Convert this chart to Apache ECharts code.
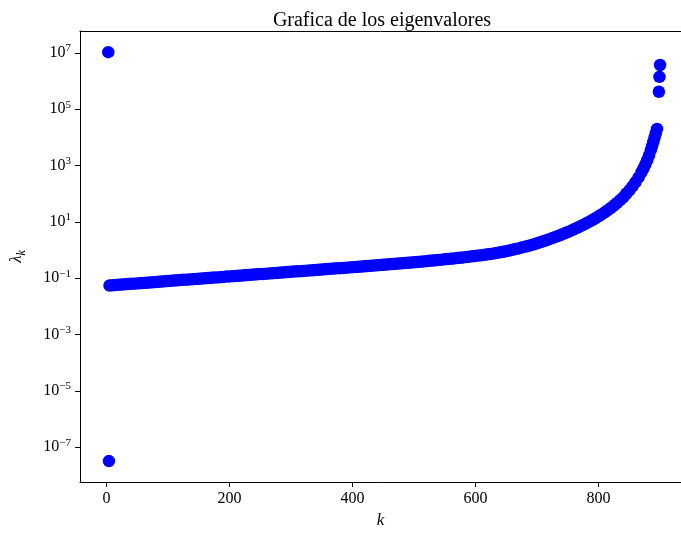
<!DOCTYPE html>
<html>
<head>
<meta charset="utf-8">
<script src="https://cdn.jsdelivr.net/npm/echarts@6/dist/echarts.min.js"></script>
<style>
html,body{margin:0;padding:0;background:#fff;}
#chart{width:681px;height:534px;}
</style>
</head>
<body>
<div id="chart"></div>
<script>
// eigenvalue index k (sampled readings)
const kValues = [
  3, 4,
  5, 10, 15, 20, 25, 30, 35, 40, 45, 50, 55, 60, 65, 70, 75, 80, 85, 90, 95,
  100, 105, 110, 115, 120, 125, 130, 135, 140, 145, 150, 155, 160, 165, 170, 175, 180, 185, 190, 195,
  200, 205, 210, 215, 220, 225, 230, 235, 240, 245, 250, 255, 260, 265, 270, 275, 280, 285, 290, 295,
  300, 305, 310, 315, 320, 325, 330, 335, 340, 345, 350, 355, 360, 365, 370, 375, 380, 385, 390, 395,
  400, 405, 410, 415, 420, 425, 430, 435, 440, 445, 450, 455, 460, 465, 470, 475, 480, 485, 490, 495,
  500, 505, 510, 515, 520, 525, 530, 535, 540, 545, 550, 555, 560, 565, 570, 575, 580, 585, 590, 595,
  600, 605, 610, 615, 620, 625, 630, 635, 640, 645, 650, 655, 660, 665, 670, 675, 680, 685, 690, 695,
  700, 705, 710, 715, 720, 725, 730, 735, 740, 745, 750, 755, 760, 765, 770, 775, 780, 785, 790, 795,
  800, 805, 810, 815, 820, 825, 830, 835, 840, 845, 850, 855, 860, 865,
  870, 873, 876, 879, 882, 885, 887, 889, 891, 893, 895,
  898, 899, 900
];
// eigenvalue lambda_k
const lambdaValues = [
  1.06e7, 3.2e-8,
  0.0550, 0.0560, 0.0571, 0.0582, 0.0594, 0.0605, 0.0617, 0.0630, 0.0641, 0.0653,
  0.0667, 0.0679, 0.0692, 0.0706, 0.0719, 0.0735, 0.0748, 0.0762, 0.0778,
  0.0794, 0.0809, 0.0824, 0.0839, 0.0857, 0.0873, 0.0889, 0.0906, 0.0923, 0.0942,
  0.0959, 0.0977, 0.0995, 0.101, 0.104, 0.105, 0.107, 0.109, 0.111, 0.114,
  0.116, 0.118, 0.120, 0.122, 0.125, 0.127, 0.129, 0.132, 0.135, 0.137,
  0.140, 0.142, 0.145, 0.148, 0.151, 0.153, 0.156, 0.159, 0.162, 0.165,
  0.169, 0.172, 0.175, 0.178, 0.182, 0.185, 0.189, 0.192, 0.196, 0.200,
  0.204, 0.207, 0.211, 0.215, 0.220, 0.224, 0.228, 0.232, 0.237, 0.242,
  0.246, 0.251, 0.255, 0.261, 0.265, 0.271, 0.276, 0.282, 0.287, 0.293,
  0.299, 0.305, 0.311, 0.318, 0.324, 0.331, 0.338, 0.345, 0.352, 0.360,
  0.367, 0.376, 0.385, 0.394, 0.403, 0.413, 0.423, 0.434, 0.445, 0.456,
  0.468, 0.480, 0.492, 0.505, 0.519, 0.533, 0.548, 0.565, 0.581, 0.598,
  0.617, 0.637, 0.658, 0.681, 0.705, 0.731, 0.760, 0.793, 0.828, 0.867,
  0.912, 0.962, 1.02, 1.08, 1.14, 1.22, 1.30, 1.39, 1.49, 1.61,
  1.74, 1.88, 2.05, 2.23, 2.43, 2.66, 2.92, 3.21, 3.54, 3.93,
  4.37, 4.88, 5.46, 6.14, 6.92, 7.83, 8.91, 10.2, 11.7, 13.5,
  15.7, 18.4, 21.8, 26.0, 31.3, 38.2, 47.1, 58.9, 74.6, 100, 132, 182, 257, 380,
  589, 794, 1100, 1550, 2290, 3550, 4900, 6920, 10000, 14100, 20000,
  417000, 1410000, 3720000
];
const xTicks = [0, 200, 400, 600, 800];
const yTicks = [1e-7, 1e-5, 1e-3, 1e-1, 1e1, 1e3, 1e5, 1e7];

const FONT = '"Liberation Serif", "DejaVu Serif", serif';
const chart = echarts.init(document.getElementById('chart'), null, {renderer: 'canvas'});
const points = kValues.map((k, i) => [k, lambdaValues[i]]);

const xLabelStyle = {fontFamily: FONT, fontSize: 16, color: '#000', margin: 9, customValues: xTicks};

chart.setOption({
  animation: false,
  backgroundColor: '#ffffff',
  title: {
    text: 'Grafica de los eigenvalores',
    left: 377, top: 6, textAlign: 'center',
    textStyle: {fontFamily: FONT, fontSize: 20, fontWeight: 'normal', color: '#000'}
  },
  grid: {
    left: 78, top: 31, right: 0, bottom: 49, show: false
  },
  xAxis: [{
    type: 'value', min: -43, max: 934, position: 'bottom',
    name: 'k', nameLocation: 'middle', nameGap: 30,
    nameTextStyle: {fontFamily: FONT, fontSize: 17, fontStyle: 'italic', color: '#000'},
    axisLine: {show: true, onZero: false, lineStyle: {color: '#000', width: 1}},
    axisTick: {show: true, length: 5, lineStyle: {color: '#000'}, customValues: xTicks},
    axisLabel: xLabelStyle,
    splitLine: {show: false}
  }, {
    type: 'value', min: -43, max: 934, position: 'top',
    axisLine: {show: true, onZero: false, lineStyle: {color: '#000', width: 1}},
    axisTick: {show: false}, axisLabel: {show: false}, splitLine: {show: false}
  }],
  yAxis: {
    type: 'log', logBase: 10, min: 5.8e-9, max: 6.0e7,
    name: '{a|λ}{b|k}', nameLocation: 'middle', nameGap: 55,
    nameTextStyle: {
      fontFamily: FONT, color: '#000',
      rich: {
        a: {fontFamily: FONT, fontSize: 17, fontStyle: 'italic', color: '#000', lineHeight: 20, verticalAlign: 'bottom'},
        b: {fontFamily: FONT, fontSize: 12, fontStyle: 'italic', color: '#000', lineHeight: 20, verticalAlign: 'bottom', padding: [0, 0, -3, 0]}
      }
    },
    axisLine: {show: true, onZero: false, lineStyle: {color: '#000', width: 1}},
    axisTick: {show: true, length: 5, lineStyle: {color: '#000'}, customValues: yTicks},
    axisLabel: {
      margin: 9, customValues: yTicks,
      formatter: function (v) {
        const e = Math.round(Math.log10(v));
        return '{b|10}{s|' + (e < 0 ? '\u2212' + (-e) : e) + '}';
      },
      rich: {
        b: {fontFamily: FONT, fontSize: 16, color: '#000', lineHeight: 20},
        s: {fontFamily: FONT, fontSize: 11, color: '#000', lineHeight: 11, verticalAlign: 'top'}
      }
    },
    splitLine: {show: false},
    minorTick: {show: false}
  },
  series: [{
    type: 'scatter',
    xAxisIndex: 0,
    data: points,
    symbol: 'circle',
    symbolSize: 12.5,
    itemStyle: {color: '#0000ff', opacity: 1},
    emphasis: {disabled: true}
  }]
});
</script>
</body>
</html>
